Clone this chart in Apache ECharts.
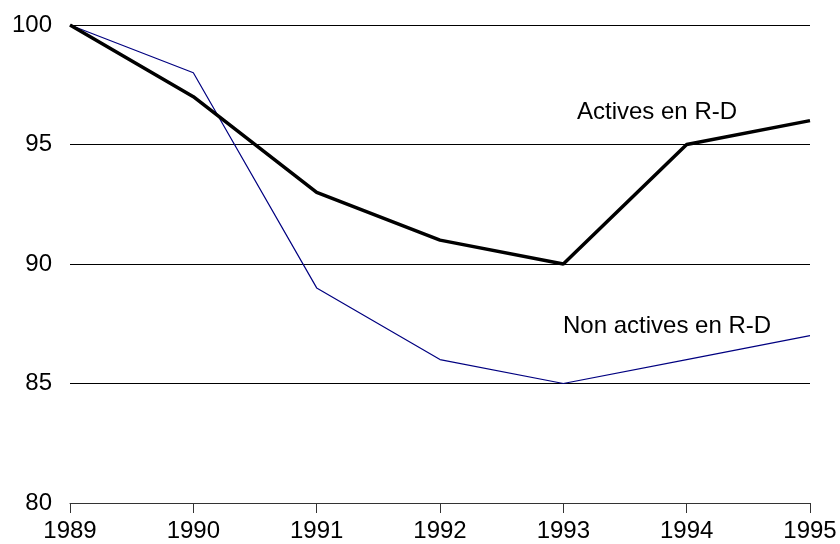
<!DOCTYPE html>
<html>
<head>
<meta charset="utf-8">
<script src="https://cdn.jsdelivr.net/npm/echarts@6/dist/echarts.min.js"></script>
<style>
  html, body { margin: 0; padding: 0; background: #fff; }
  #main { width: 840px; height: 544px; }
</style>
</head>
<body>
<div id="main"></div>
<script>
const years = ['1989', '1990', '1991', '1992', '1993', '1994', '1995'];
const activesRD = [100, 97, 93, 91, 90, 95, 96];
const nonActivesRD = [100, 98, 89, 86, 85, 86, 87];

let chart = echarts.init(document.getElementById('main'));
let font = 'Liberation Sans, Arial, sans-serif';

let option = {
  animation: false,
  grid: { left: 70, right: 30, top: 25, bottom: 41 },
  xAxis: {
    type: 'category',
    boundaryGap: false,
    data: years,
    axisLine: { lineStyle: { color: '#333', width: 1 } },
    axisTick: { show: true, length: 10, alignWithLabel: true, lineStyle: { color: '#333' } },
    axisLabel: { color: '#000', fontSize: 24, fontFamily: font, margin: 16 },
    splitLine: { show: false }
  },
  yAxis: {
    type: 'value',
    min: 80,
    max: 100,
    interval: 5,
    axisLine: { show: false },
    axisTick: { show: false },
    axisLabel: {
      color: '#000', fontSize: 24, fontFamily: font, margin: 18,
      showMinLabel: true
    },
    splitLine: {
      show: true,
      lineStyle: { color: '#000', width: 1 },
      showMinLine: false
    }
  },
  series: [
    {
      name: 'Actives en R-D',
      type: 'line',
      data: activesRD,
      symbol: 'none',
      lineStyle: { color: '#000', width: 3.5 },
      z: 3
    },
    {
      name: 'Non actives en R-D',
      type: 'line',
      data: nonActivesRD,
      symbol: 'none',
      lineStyle: { color: '#000080', width: 1.2 },
      z: 2
    }
  ],
  graphic: [
    {
      type: 'text', left: 577, top: 100,
      style: { text: 'Actives en R-D', fill: '#000', font: '24px ' + font }
    },
    {
      type: 'text', left: 563, top: 314,
      style: { text: 'Non actives en R-D', fill: '#000', font: '24px ' + font }
    }
  ]
};
option && chart.setOption(option);
</script>
</body>
</html>
